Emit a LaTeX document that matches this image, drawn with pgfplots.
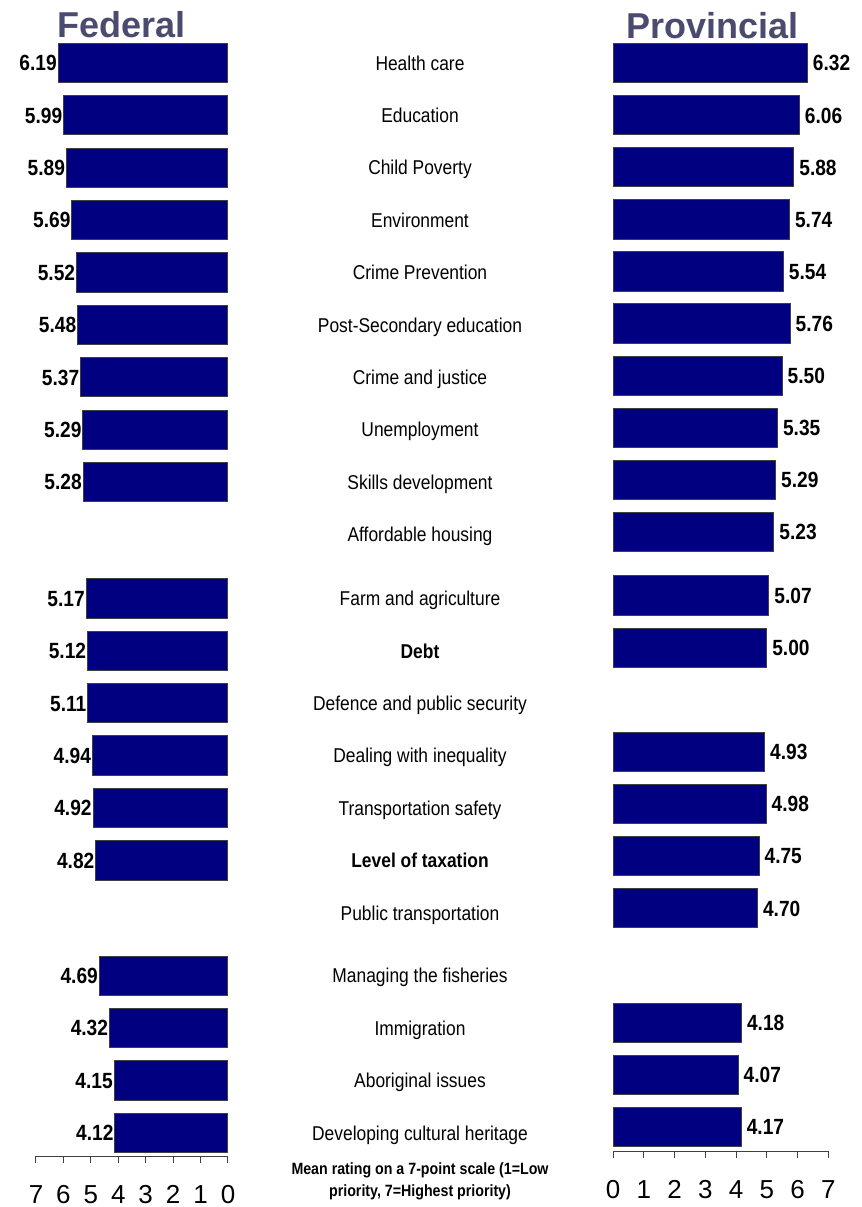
\documentclass[border=0pt]{standalone}
\usepackage{fontspec}
\setmainfont{Liberation Sans}[FakeStretch=0.87]
\newfontfamily\plainfont{Liberation Sans}
\usepackage{pgfplots}
\pgfplotsset{compat=1.18}
\definecolor{barnavy}{RGB}{0,0,128}
\definecolor{titlecol}{RGB}{75,75,111}
\definecolor{axgray}{RGB}{64,64,64}

\pgfplotstableread{
pos val
0 6.19
1 5.99
2 5.89
3 5.69
4 5.52
5 5.48
6 5.37
7 5.29
8 5.28
10.22 5.17
11.22 5.12
12.22 5.11
13.22 4.94
14.22 4.92
15.22 4.82
17.42 4.69
18.42 4.32
19.42 4.15
20.42 4.12
}\federal

\pgfplotstableread{
pos val
0 6.32
1 6.06
2 5.88
3 5.74
4 5.54
5 5.76
6 5.50
7 5.35
8 5.29
9 5.23
10.22 5.07
11.22 5.00
13.22 4.93
14.22 4.98
15.22 4.75
16.22 4.70
18.42 4.18
19.42 4.07
20.42 4.17
}\provincial

\pgfplotsset{
  common/.style={
    scale only axis,
    xbar, bar width=23.6pt,
    xmin=0, xmax=7,
    y dir=reverse, ymin=-0.45,
    axis x line*=bottom,
    axis y line*=right,
    y axis line style={draw=none},
    x axis line style={-, draw=axgray, line width=0.6pt},
    xtick={0,1,...,7},
    xtick align=outside,
    major tick length=4.2pt,
    xtick style={draw=axgray, line width=0.6pt},
    ytick style={draw=none},
    /pgf/number format/assume math mode=true,
    xticklabel style={font=\plainfont\fontsize{15.6pt}{18pt}\selectfont, yshift=-10pt},
    point meta=x,
    nodes near coords={\pgfmathprintnumber[fixed,fixed zerofill,precision=2]{\pgfplotspointmeta}},
    title style={font=\plainfont\bfseries\fontsize{21.6pt}{24pt}\selectfont, text=titlecol, anchor=base, yshift=-5.2pt},
  },
  barstyle/.style={fill=barnavy, draw=axgray, line width=0.6pt},
}

\begin{document}
\begin{tikzpicture}
\useasboundingbox (0,0) rectangle (516.6pt,724.2pt);
\begin{axis}[
  common,
  at={(21.6pt,30.6pt)}, anchor=south west,
  width=115.2pt, height=670pt,
  x dir=reverse,
  ymax=20.86,
  ytick={0,1,2,3,4,5,6,7,8,9,10.22,11.22,12.22,13.22,14.22,15.22,16.22,17.42,18.42,19.42,20.42},
  yticklabels={Health care, Education, Child Poverty, Environment, Crime Prevention, Post-Secondary education, Crime and justice, Unemployment, Skills development, Affordable housing, Farm and agriculture, \textbf{Debt}, Defence and public security, Dealing with inequality, Transportation safety, \textbf{Level of taxation}, Public transportation, Managing the fisheries, Immigration, Aboriginal issues, Developing cultural heritage},
  yticklabel style={anchor=base, xshift=111pt, yshift=-4.3pt, font=\fontsize{12pt}{14pt}\selectfont},
  every node near coord/.append style={anchor=base east, inner sep=0pt, xshift=-0.6pt, yshift=-4.7pt, font=\bfseries\fontsize{13.2pt}{15pt}\selectfont, text=black},
  title={Federal},
  title style={at={(axis description cs:0.445,1)}},
]
\addplot[barstyle] table[x=val, y=pos] {\federal};
\end{axis}

\begin{axis}[
  common,
  at={(367.8pt,33.6pt)}, anchor=south west,
  width=129.2pt, height=666.8pt,
  ymax=20.88,
  ytick=\empty,
  every node near coord/.append style={anchor=base west, inner sep=0pt, xshift=3pt, yshift=-4.7pt, font=\bfseries\fontsize{13.2pt}{15pt}\selectfont, text=black},
  title={Provincial},
  title style={at={(axis description cs:0.46,1)}},
]
\addplot[barstyle] table[x=val, y=pos] {\provincial};
\end{axis}

\node[anchor=north, align=center, inner sep=0pt, font=\bfseries\fontsize{9.8pt}{13.6pt}\selectfont] at (252pt,27pt) {Mean rating on a 7-point scale (1=Low\\priority, 7=Highest priority)};
\end{tikzpicture}
\end{document}
